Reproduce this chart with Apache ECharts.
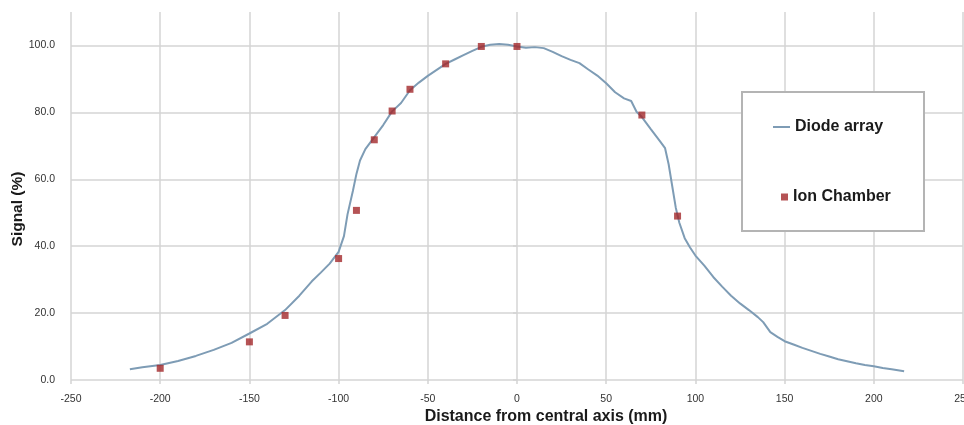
<!DOCTYPE html>
<html>
<head>
<meta charset="utf-8">
<script src="https://cdn.jsdelivr.net/npm/echarts@6/dist/echarts.min.js"></script>
<style>
  html, body { margin: 0; padding: 0; background: #fff; }
  #chart { width: 964px; height: 425px; }
</style>
</head>
<body>
<div id="chart"></div>
<script>
// diode array profile, distance (mm) vs signal (%)
const diodeX = [-217, -210, -200, -190, -180, -170, -160, -150, -140, -130, -122, -115, -110, -105, -100,
  -97, -95, -92, -90, -88, -85, -80, -75, -70, -65, -60, -55, -50, -45, -40, -35, -30, -25, -20, -15, -10, -5,
  0, 5, 10, 15, 20, 25, 30, 35, 40, 45, 50, 55, 60, 64, 67, 70, 75, 80, 83, 85, 87, 89, 91, 94, 97, 100,
  105, 110, 115, 120, 125, 130, 135, 138, 142, 146, 150, 155, 160, 165, 170, 175, 180, 185, 190, 195, 200,
  205, 210, 217]
const diodeY = [3.2, 3.8, 4.5, 5.7, 7.2, 9.0, 11.1, 13.9, 16.8, 20.9, 25.2, 29.5, 32.1, 34.8, 38.3,
  43.0, 49.5, 56.5, 61.6, 65.6, 69.0, 72.6, 76.2, 80.3, 82.8, 86.6, 88.9, 90.9, 92.7, 94.5, 95.8, 97.1, 98.4, 99.6, 100.2, 100.4, 100.2,
  99.7, 99.3, 99.5, 99.2, 98.1, 96.8, 95.7, 94.7, 92.8, 91.0, 88.7, 86.0, 84.2, 83.4, 80.2, 78.6, 75.0, 71.5, 69.3, 64.5, 58.0, 51.5, 47.0, 42.4, 39.6, 37.2,
  34.2, 30.8, 27.9, 25.2, 22.9, 20.9, 18.8, 17.3, 14.3, 12.9, 11.6, 10.6, 9.6, 8.7, 7.8, 7.0, 6.2, 5.6, 5.0, 4.5, 4.1,
  3.6, 3.2, 2.6]

// ion chamber points
const ionX = [-200, -150, -130, -100, -90, -80, -70, -60, -40, -20, 0, 70, 90]
const ionY = [3.5, 11.4, 19.3, 36.3, 50.7, 71.8, 80.4, 86.9, 94.5, 99.7, 99.7, 79.2, 49.0]

const font = "'Liberation Sans', Arial, sans-serif"
const gridColor = '#d4d4d4'
const lineColor = '#7e9cb5'

const chart = echarts.init(document.getElementById('chart'))
chart.setOption({
  animation: false,
  textStyle: { fontFamily: font },
  grid: { left: 71, right: 1, top: 12, bottom: 45, containLabel: false, outerBoundsMode: 'none' },
  xAxis: {
    type: 'value',
    min: -250,
    max: 250,
    interval: 50,
    name: 'Distance from central axis (mm)',
    nameLocation: 'middle',
    nameGap: 29,
    nameMoveOverlap: false,
    nameTextStyle: { fontSize: 16, fontWeight: 'bold', color: '#1a1a1a', fontFamily: font, padding: [0, 0, 0, 58] },
    axisLine: { show: false },
    axisTick: { show: true, length: 4, lineStyle: { color: gridColor, width: 1.5 } },
    axisLabel: { fontSize: 10.5, color: '#333', margin: 14, fontFamily: font },
    splitLine: { show: true, lineStyle: { color: gridColor, width: 1.5 } }
  },
  yAxis: {
    type: 'value',
    min: 0,
    max: 110,
    interval: 20,
    name: 'Signal (%)',
    nameLocation: 'middle',
    nameRotate: 90,
    nameGap: 45,
    nameMoveOverlap: false,
    nameTextStyle: { fontSize: 15.5, fontWeight: 'bold', color: '#1a1a1a', fontFamily: font, padding: [0, 26, 0, 0] },
    axisLine: { show: false },
    axisTick: { show: true, length: 4, lineStyle: { color: gridColor, width: 1.5 } },
    axisLabel: {
      fontSize: 10.5, color: '#333', margin: 16, fontFamily: font, showMaxLabel: false,
      formatter: v => v > 100 ? '' : v.toFixed(1)
    },
    splitLine: { show: true, showMaxLine: false, lineStyle: { color: gridColor, width: 1.5 } }
  },
  graphic: [{
    type: 'rect',
    z: 3,
    shape: { x: 742, y: 92, width: 182, height: 139 },
    style: { fill: '#fff', stroke: '#b4b4b4', lineWidth: 2 }
  }],
  legend: [{
    data: [{ name: 'Diode array', icon: 'rect', itemStyle: { color: lineColor } }],
    left: 773,
    top: 119,
    padding: 0,
    itemWidth: 17,
    itemHeight: 2,
    z: 5,
    textStyle: { fontSize: 16, fontWeight: 'bold', color: '#1a1a1a', fontFamily: font }
  }, {
    data: ['Ion Chamber'],
    left: 781,
    top: 189,
    padding: 0,
    itemWidth: 7,
    itemHeight: 7,
    z: 5,
    textStyle: { fontSize: 16, fontWeight: 'bold', color: '#1a1a1a', fontFamily: font }
  }],
  series: [{
    name: 'Diode array',
    type: 'line',
    data: diodeX.map((x, i) => [x, diodeY[i]]),
    symbol: 'none',
    smooth: false,
    lineStyle: { color: lineColor, width: 2 },
    itemStyle: { color: lineColor },
    z: 2
  }, {
    name: 'Ion Chamber',
    type: 'scatter',
    data: ionX.map((x, i) => [x, ionY[i]]),
    symbol: 'rect',
    symbolSize: 7,
    itemStyle: { color: '#a3282b' },
    z: 3
  }]
})
</script>
</body>
</html>
